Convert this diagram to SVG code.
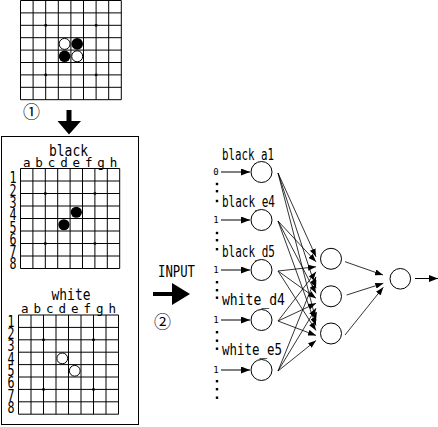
<svg xmlns="http://www.w3.org/2000/svg" width="438" height="427" viewBox="0 0 438 427">
<style>
.grid{fill:none;stroke:#000;stroke-width:1}
.bk{fill:#000}
.wh{fill:#fff;stroke:#000;stroke-width:1}
.t{font-family:"DejaVu Sans Mono","Liberation Mono",monospace;fill:#000}
.lbl{font-size:15.5px}
.col{font-size:12.5px;text-anchor:middle}
.row{font-size:15px}
.sm{font-size:9px;text-anchor:middle}
.node{fill:#fff;stroke:#000;stroke-width:1}
.edge{stroke:#000;stroke-width:0.8;fill:none;marker-end:url(#ah)}
.inarr{stroke:#000;stroke-width:1;fill:none;marker-end:url(#ah2)}
.circ{font-family:"Noto Sans CJK JP","DejaVu Sans",sans-serif;font-size:17px;text-anchor:middle;fill:#000}
</style>
<defs>
<marker id="ah" markerUnits="userSpaceOnUse" markerWidth="8" markerHeight="6" refX="8" refY="3" orient="auto"><path d="M0,0 L8,3 L0,6 z" fill="#000"/></marker>
<marker id="ah2" markerUnits="userSpaceOnUse" markerWidth="9" markerHeight="7" refX="9" refY="3.5" orient="auto"><path d="M0,0 L9,3.5 L0,7 z" fill="#000"/></marker>
</defs>
<rect width="438" height="427" fill="#fff"/>

<!-- top board -->
<g id="board_top">
<path class="grid" d="M20.5,0.5V99.7M33.1,0.5V99.7M45.7,0.5V99.7M58.3,0.5V99.7M70.9,0.5V99.7M83.5,0.5V99.7M96.1,0.5V99.7M108.7,0.5V99.7M121.3,0.5V99.7M20.5,0.5H121.3M20.5,12.9H121.3M20.5,25.3H121.3M20.5,37.7H121.3M20.5,50.1H121.3M20.5,62.5H121.3M20.5,74.9H121.3M20.5,87.3H121.3M20.5,99.7H121.3"/>
<rect class="bk" x="44.5" y="24.1" width="2.4" height="2.4"/><rect class="bk" x="94.9" y="24.1" width="2.4" height="2.4"/>
<rect class="bk" x="44.5" y="73.7" width="2.4" height="2.4"/><rect class="bk" x="94.9" y="73.7" width="2.4" height="2.4"/>
<circle class="wh" cx="64.6" cy="43.9" r="5.5"/><circle class="bk" cx="77.2" cy="43.9" r="5.8"/>
<circle class="bk" cx="64.6" cy="56.3" r="5.8"/><circle class="wh" cx="77.2" cy="56.3" r="5.5"/>
</g>

<!-- step 1 -->
<g id="step1">
<text class="circ" x="31.5" y="117.5">①</text>
<rect class="bk" x="66.5" y="110" width="5" height="12"/>
<polygon class="bk" points="57.5,121 81,121 69,134.5"/>
</g>

<!-- input box -->
<g id="input_box">
<rect x="1.5" y="136.5" width="137" height="288" fill="none" stroke="#000" stroke-width="1"/>
</g>

<!-- black board -->
<g id="board_black">
<text class="t" x="68.5" y="155.5" font-size="16" text-anchor="middle" textLength="39" lengthAdjust="spacingAndGlyphs">black</text>
<text class="t col" x="26.7" y="167.3">a</text><text class="t col" x="39.1" y="167.3">b</text><text class="t col" x="51.5" y="167.3">c</text><text class="t col" x="63.9" y="167.3">d</text><text class="t col" x="76.3" y="167.3">e</text><text class="t col" x="88.7" y="167.3">f</text><text class="t col" x="101.1" y="167.3">g</text><text class="t col" x="113.5" y="167.3">h</text>
<text class="t row" x="9.5" y="183.3" textLength="7" lengthAdjust="spacingAndGlyphs">1</text>
<text class="t row" x="9.5" y="195.6" textLength="7" lengthAdjust="spacingAndGlyphs">2</text>
<text class="t row" x="9.5" y="207.9" textLength="7" lengthAdjust="spacingAndGlyphs">3</text>
<text class="t row" x="9.5" y="220.2" textLength="7" lengthAdjust="spacingAndGlyphs">4</text>
<text class="t row" x="9.5" y="232.5" textLength="7" lengthAdjust="spacingAndGlyphs">5</text>
<text class="t row" x="9.5" y="244.8" textLength="7" lengthAdjust="spacingAndGlyphs">6</text>
<text class="t row" x="9.5" y="257.1" textLength="7" lengthAdjust="spacingAndGlyphs">7</text>
<text class="t row" x="9.5" y="269.4" textLength="7" lengthAdjust="spacingAndGlyphs">8</text>
<path class="grid" d="M20.5,168.5V268.5M32.9,168.5V268.5M45.3,168.5V268.5M57.7,168.5V268.5M70.1,168.5V268.5M82.5,168.5V268.5M94.9,168.5V268.5M107.3,168.5V268.5M119.7,168.5V268.5M20.5,168.5H119.7M20.5,181H119.7M20.5,193.5H119.7M20.5,206H119.7M20.5,218.5H119.7M20.5,231H119.7M20.5,243.5H119.7M20.5,256H119.7M20.5,268.5H119.7"/>
<rect class="bk" x="44.1" y="192.3" width="2.4" height="2.4"/><rect class="bk" x="93.7" y="192.3" width="2.4" height="2.4"/>
<rect class="bk" x="44.1" y="242.3" width="2.4" height="2.4"/><rect class="bk" x="93.7" y="242.3" width="2.4" height="2.4"/>
<circle class="bk" cx="76.3" cy="212.25" r="5.6"/><circle class="bk" cx="63.9" cy="224.75" r="5.6"/>
</g>

<!-- white board -->
<g id="board_white">
<text class="t" x="71" y="299.5" font-size="16" text-anchor="middle" textLength="39" lengthAdjust="spacingAndGlyphs">white</text>
<text class="t col" x="24.75" y="312.8">a</text><text class="t col" x="37.25" y="312.8">b</text><text class="t col" x="49.75" y="312.8">c</text><text class="t col" x="62.25" y="312.8">d</text><text class="t col" x="74.75" y="312.8">e</text><text class="t col" x="87.25" y="312.8">f</text><text class="t col" x="99.75" y="312.8">g</text><text class="t col" x="112.25" y="312.8">h</text>
<text class="t row" x="7.5" y="326.7" textLength="7" lengthAdjust="spacingAndGlyphs">1</text>
<text class="t row" x="7.5" y="339" textLength="7" lengthAdjust="spacingAndGlyphs">2</text>
<text class="t row" x="7.5" y="351.3" textLength="7" lengthAdjust="spacingAndGlyphs">3</text>
<text class="t row" x="7.5" y="363.6" textLength="7" lengthAdjust="spacingAndGlyphs">4</text>
<text class="t row" x="7.5" y="375.9" textLength="7" lengthAdjust="spacingAndGlyphs">5</text>
<text class="t row" x="7.5" y="388.2" textLength="7" lengthAdjust="spacingAndGlyphs">6</text>
<text class="t row" x="7.5" y="400.5" textLength="7" lengthAdjust="spacingAndGlyphs">7</text>
<text class="t row" x="7.5" y="412.8" textLength="7" lengthAdjust="spacingAndGlyphs">8</text>
<path class="grid" d="M18.5,315V414.2M31,315V414.2M43.5,315V414.2M56,315V414.2M68.5,315V414.2M81,315V414.2M93.5,315V414.2M106,315V414.2M118.5,315V414.2M18.5,315H118.5M18.5,327.4H118.5M18.5,339.8H118.5M18.5,352.2H118.5M18.5,364.6H118.5M18.5,377H118.5M18.5,389.4H118.5M18.5,401.8H118.5M18.5,414.2H118.5"/>
<rect class="bk" x="42.3" y="338.6" width="2.4" height="2.4"/><rect class="bk" x="92.3" y="338.6" width="2.4" height="2.4"/>
<rect class="bk" x="42.3" y="388.2" width="2.4" height="2.4"/><rect class="bk" x="92.3" y="388.2" width="2.4" height="2.4"/>
<circle class="wh" cx="62.25" cy="358.4" r="5.4"/><circle class="wh" cx="74.75" cy="370.8" r="5.4"/>
</g>

<!-- step 2 -->
<g id="step2">
<text class="t" x="158" y="277" font-size="15" textLength="37" lengthAdjust="spacingAndGlyphs">INPUT</text>
<rect class="bk" x="153" y="292" width="20" height="4"/>
<polygon class="bk" points="172,283 172,305 190,294"/>
<text class="circ" x="162.5" y="327.5">②</text>
</g>

<!-- input nodes -->
<g id="in_black_a1">
<text class="t lbl" x="222" y="160" textLength="52" lengthAdjust="spacingAndGlyphs">black_a1</text>
<circle class="node" cx="261.5" cy="172" r="10.5"/>
<text class="t sm" x="216" y="175">0</text>
</g>
<g id="in_black_e4">
<text class="t lbl" x="222" y="206.5" textLength="53" lengthAdjust="spacingAndGlyphs">black_e4</text>
<circle class="node" cx="261.5" cy="220" r="10.5"/>
<text class="t sm" x="216" y="223">1</text>
</g>
<g id="in_black_d5">
<text class="t lbl" x="222" y="256.5" textLength="53" lengthAdjust="spacingAndGlyphs">black_d5</text>
<circle class="node" cx="261.5" cy="270" r="10.5"/>
<text class="t sm" x="216" y="273">1</text>
</g>
<g id="in_white_d4">
<text class="t lbl" x="222" y="305" textLength="63" lengthAdjust="spacingAndGlyphs">white_d4</text>
<circle class="node" cx="261.5" cy="320" r="10.5"/>
<text class="t sm" x="216" y="323">1</text>
</g>
<g id="in_white_e5">
<text class="t lbl" x="222" y="355" textLength="60" lengthAdjust="spacingAndGlyphs">white_e5</text>
<circle class="node" cx="261.5" cy="370" r="10.5"/>
<text class="t sm" x="216" y="373">1</text>
</g>

<!-- ellipsis dots -->
<g id="ellipses">
<rect class="bk" x="215.8" y="182.8" width="2.4" height="2.4"/><rect class="bk" x="215.8" y="190" width="2.4" height="2.4"/><rect class="bk" x="215.8" y="199.8" width="2.4" height="2.4"/>
<rect class="bk" x="215.8" y="231.8" width="2.4" height="2.4"/><rect class="bk" x="215.8" y="239" width="2.4" height="2.4"/><rect class="bk" x="215.8" y="248" width="2.4" height="2.4"/>
<rect class="bk" x="215.8" y="281" width="2.4" height="2.4"/><rect class="bk" x="215.8" y="289" width="2.4" height="2.4"/><rect class="bk" x="215.8" y="296.5" width="2.4" height="2.4"/>
<rect class="bk" x="215.8" y="331" width="2.4" height="2.4"/><rect class="bk" x="215.8" y="339.5" width="2.4" height="2.4"/><rect class="bk" x="215.8" y="347.5" width="2.4" height="2.4"/>
<rect class="bk" x="215.8" y="380" width="2.4" height="2.4"/><rect class="bk" x="215.8" y="388" width="2.4" height="2.4"/><rect class="bk" x="215.8" y="396.5" width="2.4" height="2.4"/>
</g>

<!-- hidden and output nodes -->
<g id="hidden_1"><circle class="node" cx="331" cy="258.8" r="10.5"/></g>
<g id="hidden_2"><circle class="node" cx="331" cy="296.3" r="10.5"/></g>
<g id="hidden_3"><circle class="node" cx="331" cy="333.5" r="10.5"/></g>
<g id="output"><circle class="node" cx="400.3" cy="278.8" r="10.3"/></g>

<!-- connectors -->
<g id="connectors">
<line class="inarr" x1="221" y1="172" x2="250" y2="172"/>
<line class="inarr" x1="221" y1="220" x2="250" y2="220"/>
<line class="inarr" x1="221" y1="270" x2="250" y2="270"/>
<line class="inarr" x1="221" y1="320" x2="250" y2="320"/>
<line class="inarr" x1="221" y1="370" x2="250" y2="370"/>

<line class="edge" x1="278" y1="173" x2="316" y2="256.8"/>
<line class="edge" x1="278" y1="173" x2="316" y2="288.3"/>
<line class="edge" x1="278" y1="173" x2="316" y2="320.5"/>
<line class="edge" x1="278" y1="221" x2="316" y2="261.8"/>
<line class="edge" x1="278" y1="221" x2="316" y2="293.3"/>
<line class="edge" x1="278" y1="221" x2="316" y2="325.5"/>
<line class="edge" x1="278" y1="271" x2="316" y2="266.8"/>
<line class="edge" x1="278" y1="271" x2="316" y2="298.3"/>
<line class="edge" x1="278" y1="271" x2="316" y2="330.5"/>
<line class="edge" x1="278" y1="321" x2="316" y2="271.8"/>
<line class="edge" x1="278" y1="321" x2="316" y2="303.3"/>
<line class="edge" x1="278" y1="321" x2="316" y2="335.5"/>
<line class="edge" x1="278" y1="371" x2="316" y2="276.8"/>
<line class="edge" x1="278" y1="371" x2="316" y2="308.3"/>
<line class="edge" x1="278" y1="371" x2="316" y2="340.5"/>

<line class="edge" x1="345" y1="261.7" x2="383" y2="275"/>
<line class="edge" x1="346.7" y1="295" x2="383.3" y2="283.3"/>
<line class="edge" x1="345" y1="335" x2="383.3" y2="287.3"/>

<line class="inarr" x1="415" y1="278.5" x2="438" y2="278.5"/>
</g>
</svg>
